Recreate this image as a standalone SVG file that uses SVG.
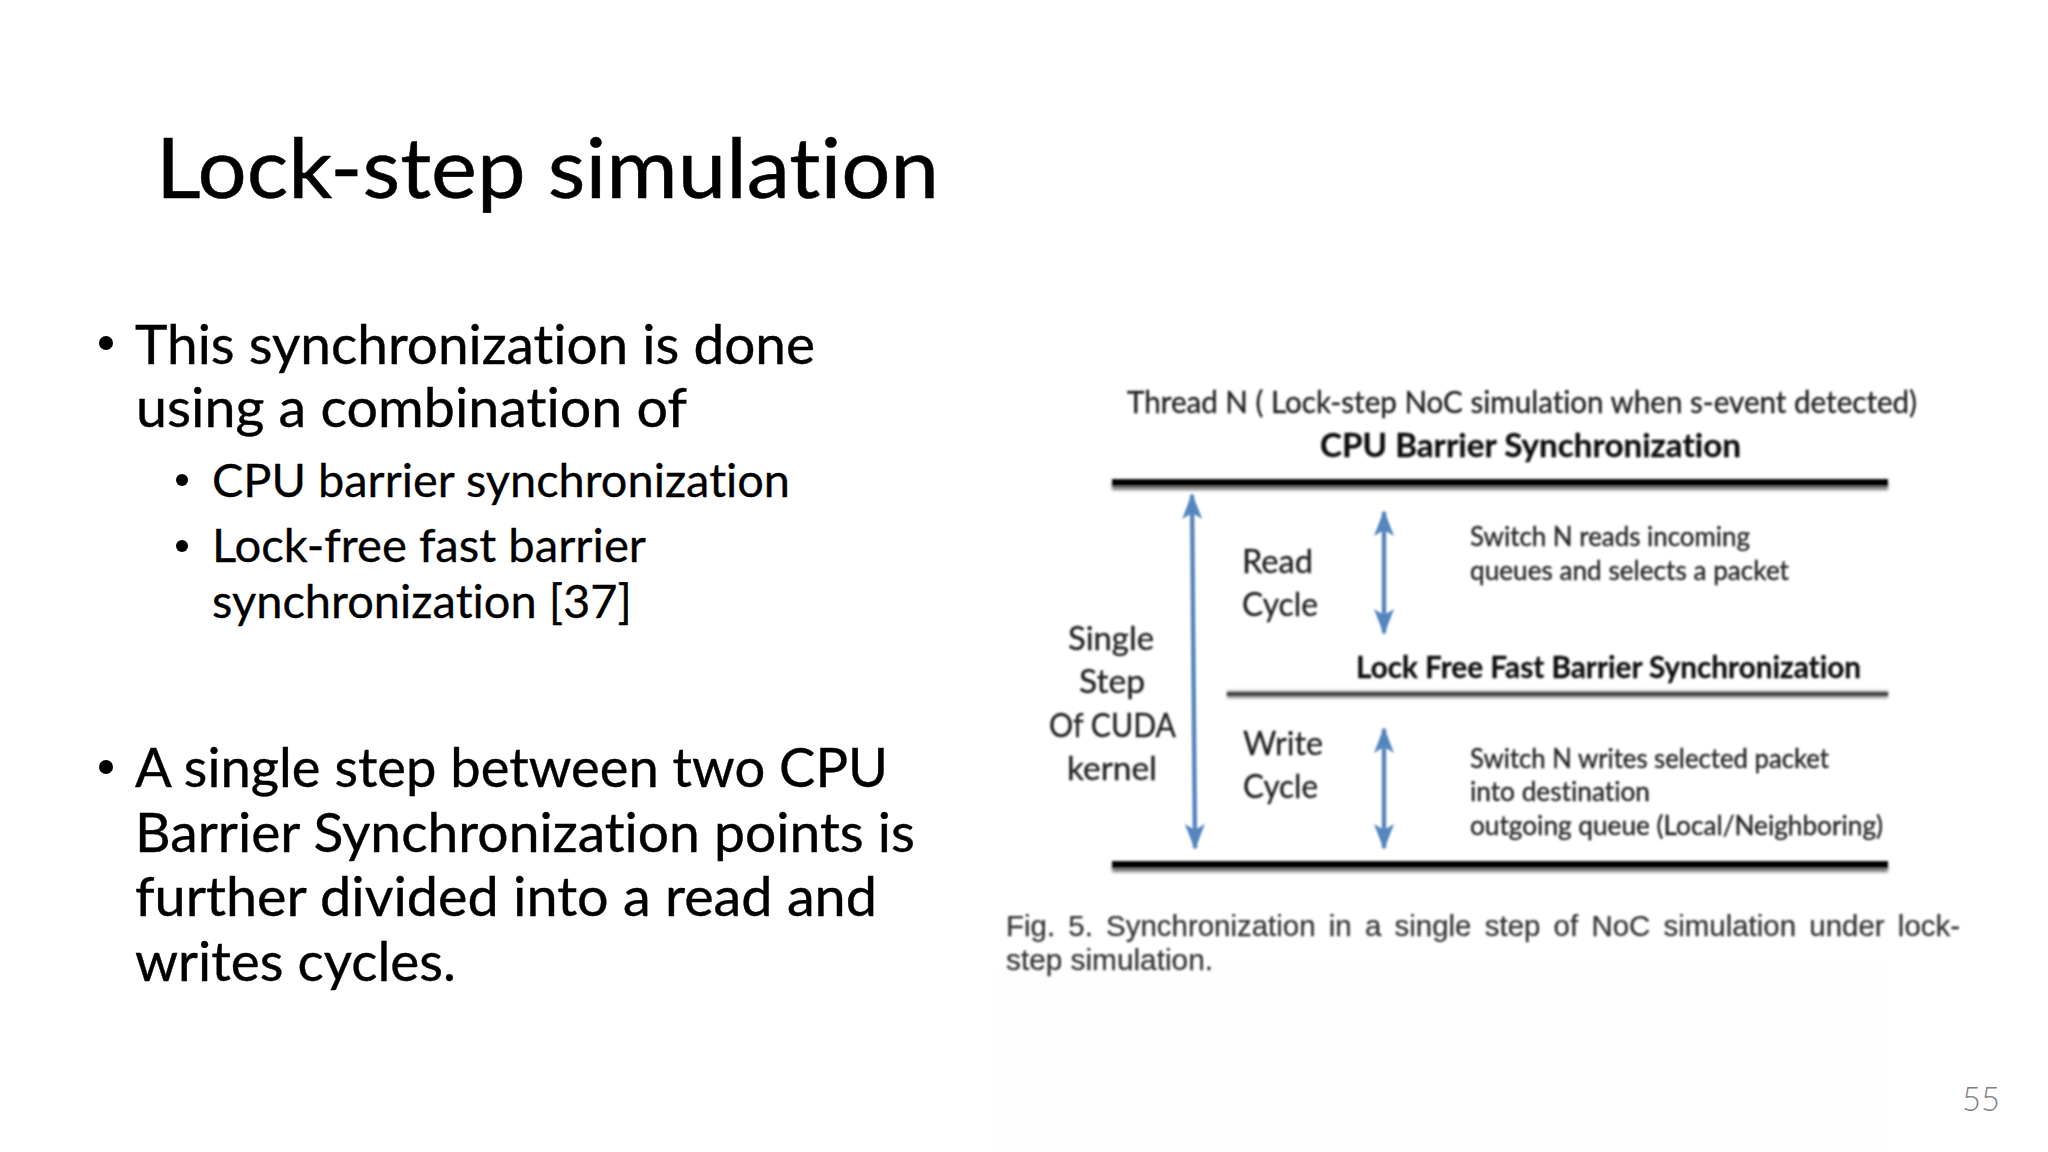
<svg xmlns="http://www.w3.org/2000/svg" width="2048" height="1152" viewBox="0 0 2048 1152">
<style>
text{font-family:Lato,"Open Sans","Liberation Sans",sans-serif;fill:#000;font-variant-ligatures:none}
.title{font-size:84px;stroke:#000;stroke-width:.5}
.b1{font-size:54px;stroke:#000;stroke-width:.4}
.b2{font-size:46px;stroke:#000;stroke-width:.3}
.im{fill:#222;stroke:#222;stroke-width:.35}
.t28{font-size:30px}
.t31{font-size:33px}
.t23{font-size:26px}
.bold{font-size:33px;font-weight:700;fill:#111;stroke:#111;stroke-width:.3}
.cap{font-family:"Liberation Sans",Arial,sans-serif;font-size:29px;fill:#333;stroke:#333;stroke-width:.25}
.arr{stroke:#5585bd;stroke-width:4.5;fill:none;marker-start:url(#head);marker-end:url(#head)}
.pg{font-size:33px;font-weight:300;fill:#7f7f7f}
</style>
<defs>
<marker id="head" viewBox="0 0 26 22" refX="24" refY="11" markerUnits="userSpaceOnUse" markerWidth="26" markerHeight="22" orient="auto-start-reverse">
<path d="M0 1L26 11L0 21L6 11Z" fill="#5585bd"/>
</marker>
<filter id="soft" x="-5%" y="-5%" width="110%" height="110%"><feGaussianBlur stdDeviation="0.8"/></filter>
<filter id="sh" x="-5%" y="-200%" width="110%" height="500%"><feGaussianBlur stdDeviation="1.6"/></filter>
</defs>
<rect width="2048" height="1152" fill="#fff"/>
<rect x="995" y="965" width="895" height="187" fill="#fefefe"/>

<g id="title"><text class="title" x="156" y="198" textLength="783" lengthAdjust="spacingAndGlyphs">Lock-step simulation</text></g>

<g id="bullets">
<circle cx="106" cy="343" r="7"/>
<text class="b1" x="135" y="364" textLength="680" lengthAdjust="spacingAndGlyphs">This synchronization is done</text>
<text class="b1" x="136" y="427" textLength="551" lengthAdjust="spacingAndGlyphs">using a combination of</text>
<circle cx="182" cy="480" r="6"/>
<text class="b2" x="212" y="497" textLength="578" lengthAdjust="spacingAndGlyphs">CPU barrier synchronization</text>
<circle cx="182" cy="546" r="6"/>
<text class="b2" x="212" y="562" textLength="434" lengthAdjust="spacingAndGlyphs">Lock-free fast barrier</text>
<text class="b2" x="212" y="618" textLength="420" lengthAdjust="spacingAndGlyphs">synchronization [37]</text>
<circle cx="106" cy="767" r="7"/>
<text class="b1" x="135" y="787" textLength="753" lengthAdjust="spacingAndGlyphs">A single step between two CPU</text>
<text class="b1" x="135" y="852" textLength="780" lengthAdjust="spacingAndGlyphs">Barrier Synchronization points is</text>
<text class="b1" x="135" y="916" textLength="742" lengthAdjust="spacingAndGlyphs">further divided into a read and</text>
<text class="b1" x="135" y="981" textLength="321" lengthAdjust="spacingAndGlyphs">writes cycles.</text>
</g>

<g id="figure" filter="url(#soft)">
<g id="lines">
<rect x="1112" y="480" width="776" height="10" fill="#777" filter="url(#sh)"/>
<rect x="1112" y="479" width="776" height="7" fill="#000"/>
<rect x="1227" y="691" width="661" height="7" fill="#888" filter="url(#sh)"/>
<rect x="1227" y="692" width="661" height="4" fill="#444"/>
<rect x="1112" y="862" width="776" height="10" fill="#777" filter="url(#sh)"/>
<rect x="1112" y="861" width="776" height="7" fill="#000"/>
</g>
<g id="connectors">
<line class="arr" x1="1192" y1="495" x2="1195" y2="848"/>
<line class="arr" x1="1384" y1="512" x2="1384" y2="633"/>
<line class="arr" x1="1384" y1="729" x2="1384" y2="848"/>
</g>
<g id="header">
<text class="im t28" x="1127" y="413" textLength="790" lengthAdjust="spacingAndGlyphs">Thread N ( Lock-step NoC simulation when s-event detected)</text>
<text class="bold" x="1320" y="457" textLength="421" lengthAdjust="spacingAndGlyphs">CPU Barrier Synchronization</text>
</g>
<g id="single-step">
<text class="im t31" x="1068" y="650" textLength="86" lengthAdjust="spacingAndGlyphs">Single</text>
<text class="im t31" x="1079" y="693" textLength="66" lengthAdjust="spacingAndGlyphs">Step</text>
<text class="im t31" x="1049" y="737" textLength="127" lengthAdjust="spacingAndGlyphs">Of CUDA</text>
<text class="im t31" x="1067" y="780" textLength="90" lengthAdjust="spacingAndGlyphs">kernel</text>
</g>
<g id="read-cycle">
<text class="im t31" x="1242" y="573" textLength="71" lengthAdjust="spacingAndGlyphs">Read</text>
<text class="im t31" x="1242" y="616" textLength="76" lengthAdjust="spacingAndGlyphs">Cycle</text>
<text class="im t23" x="1470" y="546" textLength="280" lengthAdjust="spacingAndGlyphs">Switch N reads incoming</text>
<text class="im t23" x="1470" y="580" textLength="319" lengthAdjust="spacingAndGlyphs">queues and selects a packet</text>
</g>
<g id="mid-label"><text class="bold" style="font-size:31px" x="1356" y="678" textLength="505" lengthAdjust="spacingAndGlyphs">Lock Free Fast Barrier Synchronization</text></g>
<g id="write-cycle">
<text class="im t31" x="1243" y="755" textLength="80" lengthAdjust="spacingAndGlyphs">Write</text>
<text class="im t31" x="1243" y="798" textLength="75" lengthAdjust="spacingAndGlyphs">Cycle</text>
<text class="im t23" x="1470" y="768" textLength="359" lengthAdjust="spacingAndGlyphs">Switch N writes selected packet</text>
<text class="im t23" x="1470" y="801" textLength="180" lengthAdjust="spacingAndGlyphs">into destination</text>
<text class="im t23" x="1470" y="835" textLength="413" lengthAdjust="spacingAndGlyphs">outgoing queue (Local/Neighboring)</text>
</g>
<g id="caption">
<text class="cap" style="word-spacing:5px" x="1006" y="936" textLength="954" lengthAdjust="spacingAndGlyphs">Fig. 5. Synchronization in a single step of NoC simulation under lock-</text>
<text class="cap" x="1006" y="970" textLength="207" lengthAdjust="spacingAndGlyphs">step simulation.</text>
</g>
</g>
<g id="page"><text class="pg" x="1962" y="1111" textLength="38" lengthAdjust="spacingAndGlyphs">55</text></g>
</svg>
